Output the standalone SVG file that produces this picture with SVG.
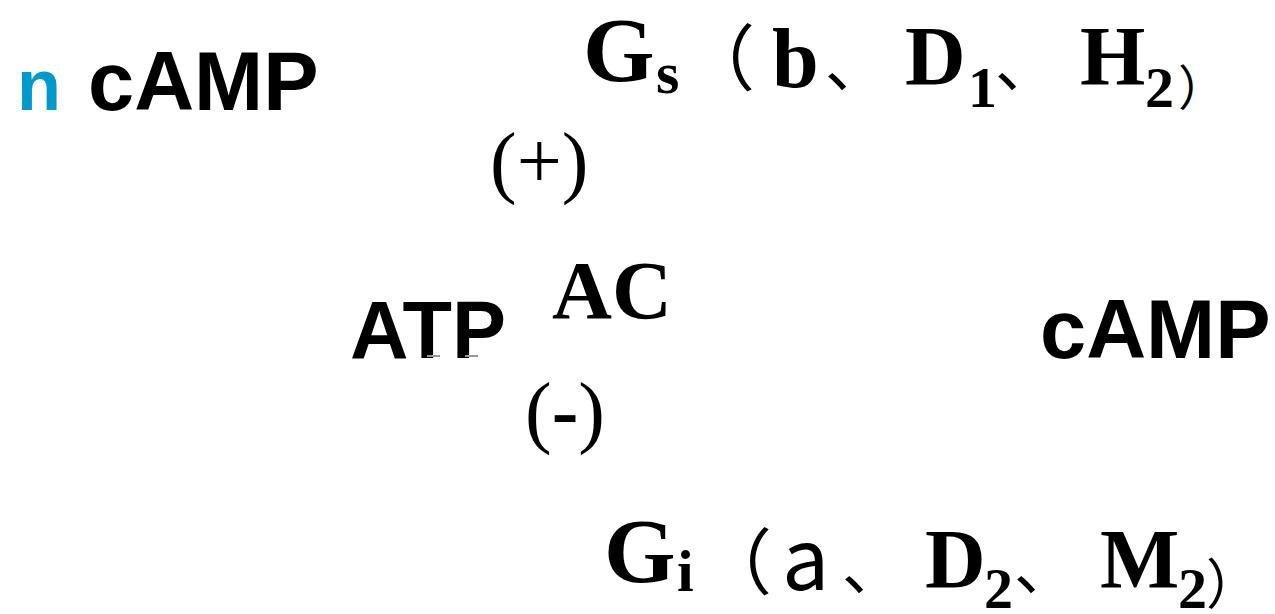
<svg xmlns="http://www.w3.org/2000/svg" width="1275" height="614" viewBox="0 0 1275 614">
<style>
.sans{font-family:"Liberation Sans",Arial,sans-serif;font-weight:bold;fill:#000}
.ser{font-family:"Liberation Serif","Times New Roman",serif;fill:#000}
.b{font-weight:bold}
.cjk{font-family:"Noto Sans CJK SC",sans-serif;fill:#000}
.big{font-size:92px}
.mid{font-size:84px}
.sub{font-size:58px}
.pun{font-size:62px}
</style>
<rect width="1275" height="614" fill="#fff"/>
<g id="title">
<text x="17" y="110" font-size="72" class="sans" style="fill:#0099cc">n</text>
<text x="88" y="110" font-size="83" class="sans">cAMP</text>
</g>
<g id="gs">
<text x="583" y="81" class="ser b big">G</text>
<text x="656" y="93" font-size="60" class="ser b">s</text>
<text x="683" y="84" font-size="72" class="cjk">（</text>
<text x="772" y="87" font-size="84" class="ser b">b</text>
<text x="825" y="87" class="cjk pun">、</text>
<text x="905" y="85" class="ser b mid">D</text>
<text x="968" y="107" class="ser b sub">1</text>
<text x="995" y="87" class="cjk pun">、</text>
<text x="1080" y="85" class="ser b mid">H</text>
<text x="1145" y="107" class="ser b sub">2</text>
<text x="1178" y="105" font-size="48" class="cjk">）</text>
</g>
<g id="plus">
<text x="490" y="188" font-size="80" class="ser">(+)</text>
</g>
<g id="atp">
<text x="350" y="358" font-size="81" class="sans">ATP</text>
<line x1="427" y1="356" x2="440" y2="356" stroke="#999" stroke-width="2"/>
<line x1="465" y1="356" x2="478" y2="356" stroke="#999" stroke-width="2"/>
</g>
<g id="ac">
<text x="552" y="318" font-size="83" class="ser b">AC</text>
</g>
<g id="camp">
<text x="1040" y="358" font-size="83" class="sans">cAMP</text>
</g>
<g id="minus">
<text x="525" y="438" font-size="80" class="ser">(<tspan class="b">-</tspan>)</text>
</g>
<g id="gi">
<text x="604" y="582" class="ser b big">G</text>
<text x="677" y="591" font-size="60" class="ser b">i</text>
<text x="700" y="588" font-size="72" class="cjk">（</text>
<text x="782" y="590" font-size="84" class="cjk">a</text>
<text x="842" y="590" class="cjk pun">、</text>
<text x="925" y="588" class="ser b mid">D</text>
<text x="984" y="608" class="ser b sub">2</text>
<text x="1014" y="590" class="cjk pun">、</text>
<text x="1100" y="588" class="ser b mid">M</text>
<text x="1178" y="608" class="ser b sub">2</text>
<text x="1206" y="604" font-size="54" class="cjk">）</text>
</g>
<g id="connectors"></g>
</svg>
